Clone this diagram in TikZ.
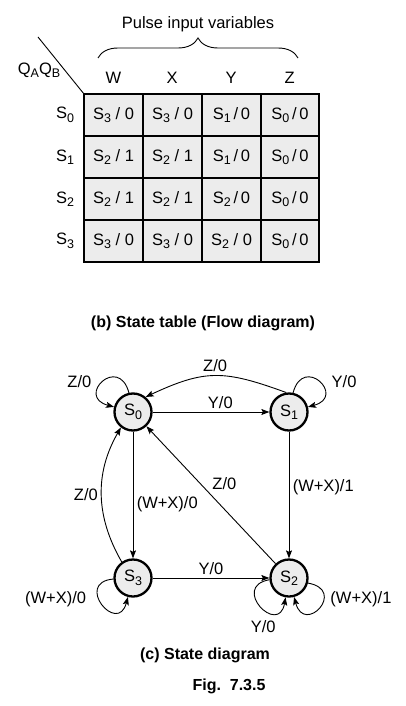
\documentclass[tikz,border=0pt]{standalone}
\usepackage{fontspec}
\setmainfont{Liberation Sans}
\usetikzlibrary{arrows.meta,decorations.pathreplacing}
\newcommand{\sub}[1]{\raisebox{-0.4ex}{\fontsize{12.5}{12.5}\selectfont#1}}
\newcommand{\cell}[2]{S\sub{#1} / #2}
\newcommand{\cellt}[2]{S\sub{#1}\,/\,#2}
\newcommand{\St}[1]{S\sub{#1}}
\tikzset{
  state/.style={circle,draw,line width=2.3pt,fill=gray!15,minimum size=37pt,inner sep=0pt},
  trans/.style={-{Stealth[length=8pt,width=6pt,inset=1.5pt]},line width=0.9pt},
  caption/.style={font=\fontsize{16}{18}\selectfont\bfseries},
}
\begin{document}
\begin{tikzpicture}[x=1pt,y=1pt,font=\fontsize{16.5}{18}\selectfont]
\useasboundingbox (0,0) rectangle (406,-706);
% state table
\fill[gray!15] (84,-94) rectangle (319,-262);
\foreach \c in {143,202,261}
  \draw[line width=1.4pt] (\c,-94) -- (\c,-262);
\foreach \r in {136,178,220}
  \draw[line width=1.4pt] (84,-\r) -- (319,-\r);
\draw[line width=2.6pt] (84,-94) rectangle (319,-262);
\foreach \cw/\cx/\cy/\cz [count=\r from 0] in
  {{\cell30}/{\cell30}/{\cellt10}/{\cellt00},
   {\cell21}/{\cell21}/{\cellt10}/{\cellt00},
   {\cell21}/{\cell21}/{\cellt20}/{\cellt00},
   {\cell30}/{\cell30}/{\cell20}/{\cellt00}}
{
  \node (tab-\r-w) at (113.5,{-115-42*\r}) {\cw};
  \node (tab-\r-x) at (172.5,{-115-42*\r}) {\cx};
  \node (tab-\r-y) at (231.5,{-115-42*\r}) {\cy};
  \node (tab-\r-z) at (290,{-115-42*\r}) {\cz};
  \node (row-\r) at (65,{-115-42*\r}) {\St{\r}};
}
\foreach \v [count=\c from 0] in {W,X,Y,Z}
  \node (col-\v) at ({113.5+58.75*\c},-78) {\v};
% corner
\coordinate (corner-a) at (38,-37);
\coordinate (corner-b) at (84,-94);
\draw[line width=0.9pt] (corner-a) -- (corner-b);
\node (qaqb) at (39,-70) {Q\sub{A}Q\sub{B}};
\coordinate (brace-l) at (98,-58);
\coordinate (brace-r) at (298,-58);
\draw[line width=0.9pt,decorate,decoration={brace,amplitude=20pt}] (brace-l) -- (brace-r);
\node (inputs) at (198,-24) {Pulse input variables};
\node[caption] (cap-b) at (203,-323) {(b) State table (Flow diagram)};
% state diagram
\node[state] (s0) at (133,-412) {\St0};
\node[state] (s1) at (289,-412) {\St1};
\node[state] (s2) at (289,-578) {\St2};
\node[state] (s3) at (133,-578) {\St3};
\draw[trans] (s0) -- node[pos=0.58,anchor=south] {Y/0} (s1);
\draw[trans] (s1.98) to[out=160,in=25,looseness=1.2] node[pos=0.5,anchor=south] {Z/0} (s0.50);
\draw[trans] (s0) -- node[pos=0.57,anchor=west] {(W+X)/0} (s3);
\draw[trans] (s1) -- node[pos=0.44,anchor=west] {(W+X)/1} (s2);
\draw[trans] (s2) -- node[pos=0.58,anchor=west,xshift=8pt] {Z/0} (s0);
\draw[trans] (s3.125) to[out=120,in=240] node[pos=0.5,anchor=east] {Z/0} (s0.232);
\draw[trans] (s3) -- node[pos=0.5,anchor=south] {Y/0} (s2);
% self loops
\draw[trans] (s0.102) .. controls +(105:40) and +(165:40) .. node[pos=0.5,anchor=east,xshift=-8pt] {Z/0} (s0.165);
\draw[trans] (s1.78) .. controls +(75:40) and +(15:40) .. node[pos=0.5,anchor=west,xshift=9pt] {Y/0} (s1.15);
\draw[trans] (s3.183) .. controls +(185:40) and +(255:40) .. node[pos=0.5,anchor=east,xshift=-12pt,yshift=5pt] {(W+X)/0} (s3.255);
\draw[trans] (s2.185) .. controls +(190:40) and +(260:40) .. node[pos=0.5,anchor=north,xshift=3pt,yshift=-11pt] {Y/0} (s2.260);
\draw[trans] (s2.345) .. controls +(350:40) and +(285:40) .. node[pos=0.5,anchor=west,xshift=7pt,yshift=8pt] {(W+X)/1} (s2.285);
\node[caption] (cap-c) at (205,-655) {(c) State diagram};
\node[caption] (fig) at (229,-686) {Fig.\ \ 7.3.5};
\end{tikzpicture}
\end{document}
